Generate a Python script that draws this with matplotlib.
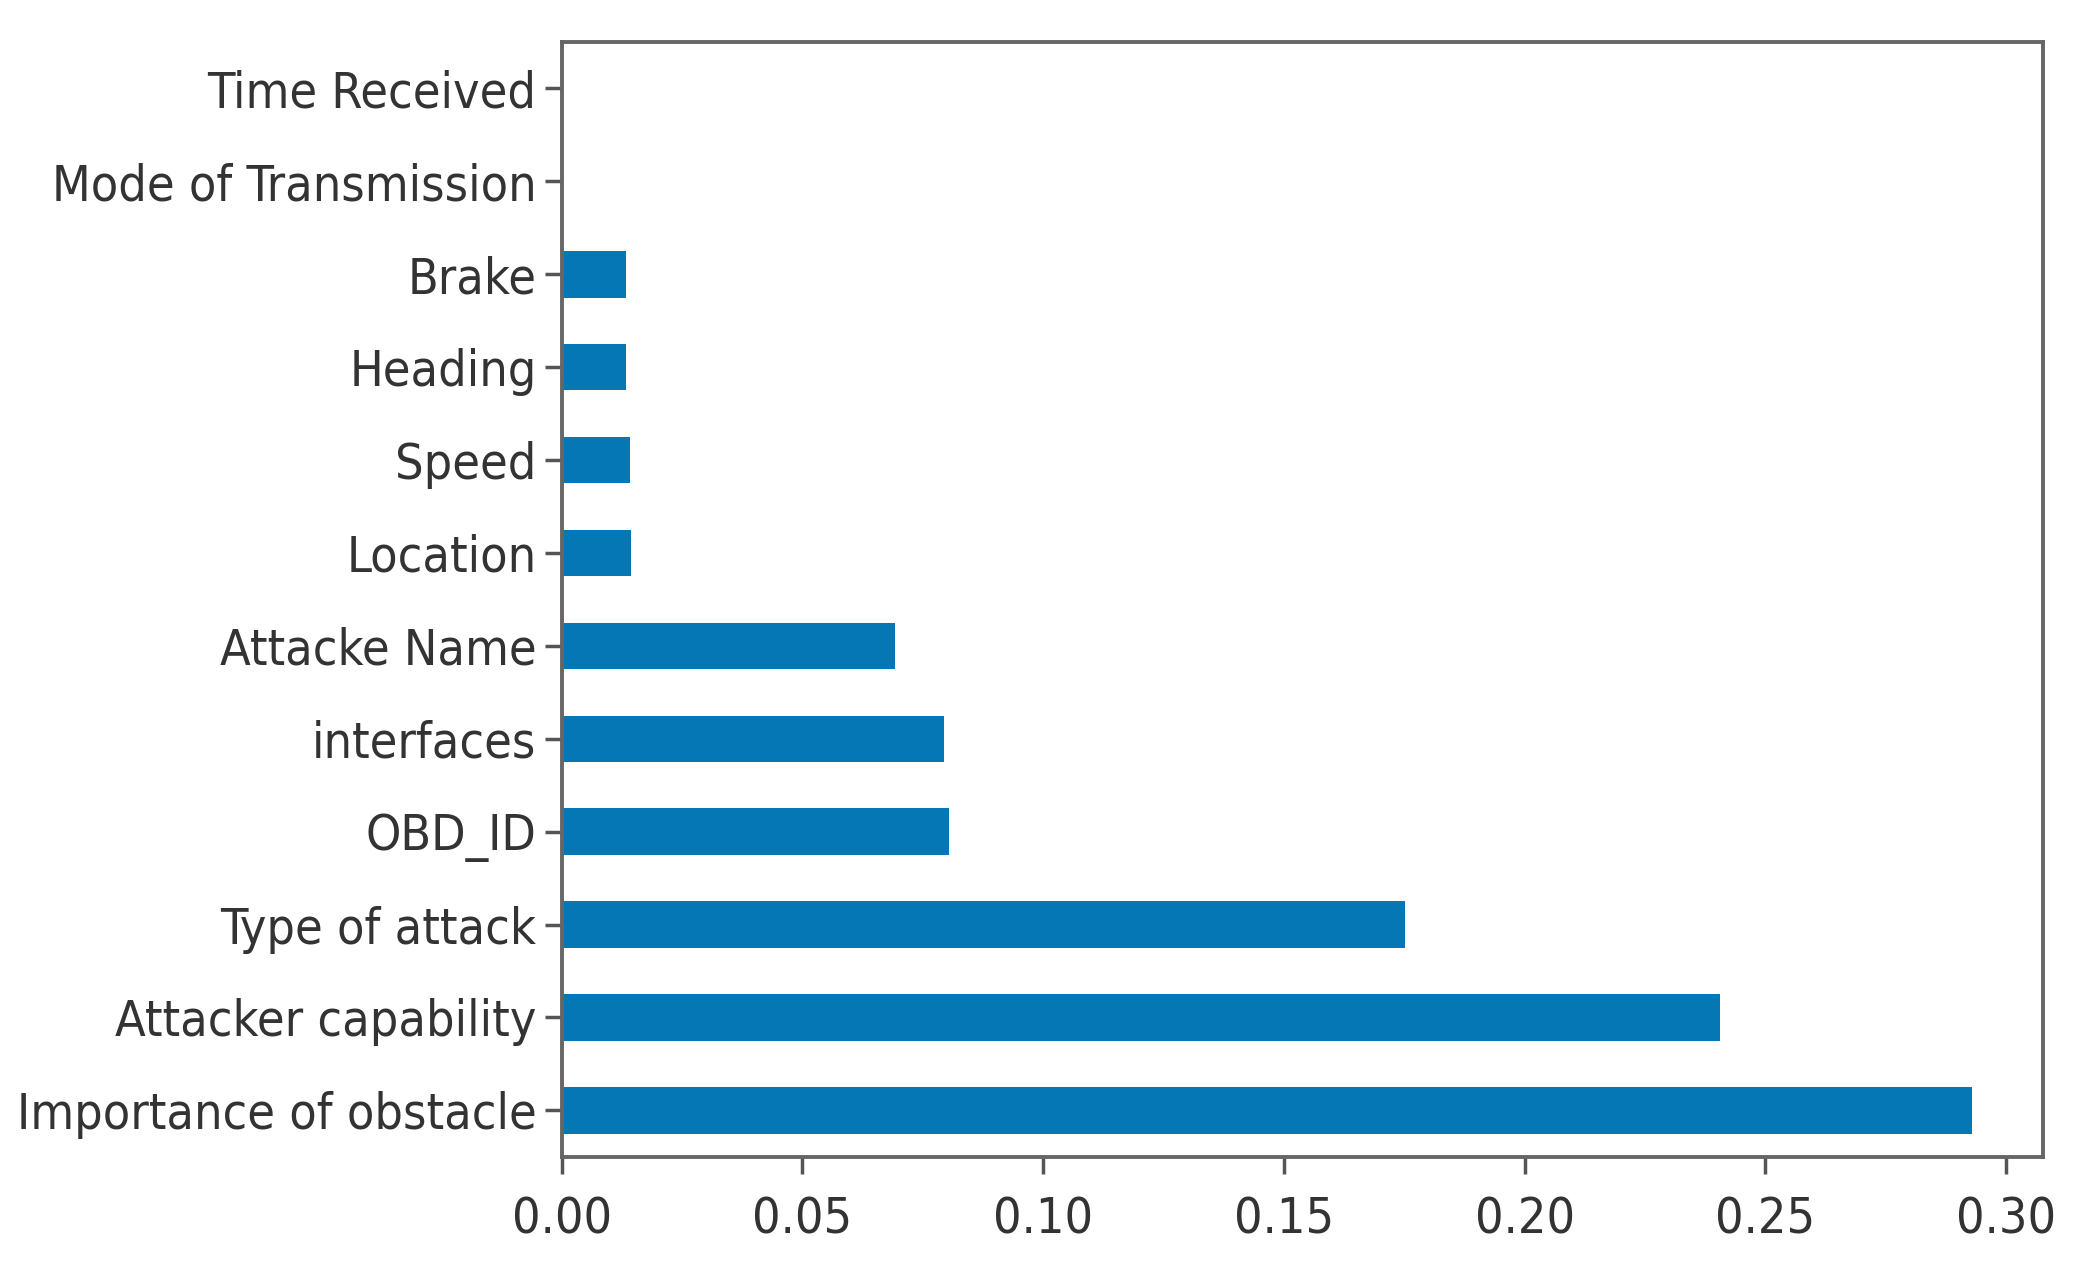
import numpy as np
import matplotlib
matplotlib.use("Agg")
import matplotlib.pyplot as plt

# Feature importances (bottom bar first)
features = ["Importance of obstacle", "Attacker capability", "Type of attack", "OBD_ID",
            "interfaces", "Attacke Name", "Location", "Speed", "Heading", "Brake",
            "Mode of Transmission", "Time Received"]
importance = [0.2929, 0.2405, 0.1752, 0.0805, 0.0795, 0.0692,
              0.0144, 0.0143, 0.0133, 0.0133, 0.0, 0.0]

fig = plt.figure(figsize=(20.8, 12.74), dpi=100)
ax = fig.add_axes([0.270, 0.092, 0.712, 0.875])

y = np.arange(len(features))
ax.barh(y, importance, height=0.5, color="#0577b5")

ax.set_yticks(y)
ax.set_yticklabels(features)
ax.set_ylim(-0.5, len(features) - 0.5)
ax.set_xlim(0, max(importance) * 1.05)
ax.set_xticks(np.arange(0, 0.31, 0.05))
ax.set_xticklabels([f"{v:.2f}" for v in np.arange(0, 0.31, 0.05)])

for lab in ax.get_yticklabels() + ax.get_xticklabels():
    lab.set_fontsize(36)
    lab.set_fontstretch("condensed")
    lab.set_color("#333333")

ax.tick_params(axis="both", length=12, width=2.5, color="#555555")
ax.tick_params(axis="y", pad=6)
ax.tick_params(axis="x", pad=16)
for s in ax.spines.values():
    s.set_linewidth(2.8)
    s.set_color("#666666")

fig.savefig("out.png", dpi=100)
